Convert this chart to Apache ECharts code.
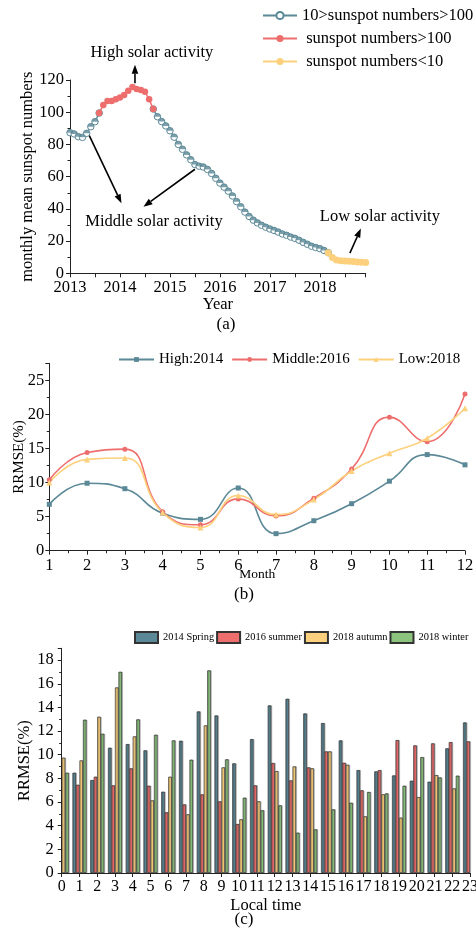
<!DOCTYPE html>
<html><head><meta charset="utf-8">
<script src="https://cdn.jsdelivr.net/npm/echarts@6/dist/echarts.min.js"></script>
<style>html,body{margin:0;padding:0;background:#fff}#c{width:476px;height:938px}</style>
</head><body><div id="c"></div>
<script>
// ---------- (a) monthly mean sunspot numbers, Jan 2013 .. Dec 2018 ----------
const sunspotStartYear = 2013;
const sunspot = [
  87.3, 86.5, 84.8, 84.4, 86.9, 91.0, 94.1, 99.5, 104.5, 106.9, 106.9, 108.0,   // 2013
  109.2, 110.7, 113.4, 115.6, 114.4, 113.8, 112.7, 108.0, 102.0, 97.2, 94.2, 91.5, // 2014
  88.5, 84.5, 80.0, 77.0, 73.5, 70.5, 67.5, 66.5, 66.0, 64.5, 62.0, 59.0,        // 2015
  56.0, 53.5, 51.0, 48.0, 44.5, 41.3, 38.0, 35.3, 33.0, 31.3, 29.8, 28.6,        // 2016
  27.5, 26.6, 25.6, 24.4, 23.6, 22.5, 21.7, 20.5, 19.2, 18.0, 16.8, 16.0,        // 2017
  15.3, 14.2, 12.8, 9.8, 8.3, 7.8, 7.6, 7.5, 7.4, 7.0, 6.9, 6.7                  // 2018
];
// month-index ranges of each activity class
const segMiddle = [[0, 7], [20, 62]];
const segHigh = [[7, 20]];
const segLow = [[62, 71]];
const seriesNamesA = ['10>sunspot numbers>100', ' sunspot numbers>100', ' sunspot numbers<10'];

// ---------- (b) RRMSE by month ----------
const months = [1, 2, 3, 4, 5, 6, 7, 8, 9, 10, 11, 12];
const rrmseHigh2014 = [6.8, 9.9, 9.1, 5.5, 4.6, 9.2, 2.5, 4.4, 6.9, 10.2, 14.1, 12.6];
const rrmseMiddle2016 = [10.4, 14.4, 14.9, 5.7, 3.8, 7.6, 5.1, 7.7, 12.0, 19.6, 16.0, 23.0];
const rrmseLow2018 = [10.0, 13.4, 13.6, 5.6, 3.4, 8.1, 5.3, 7.5, 11.7, 14.3, 16.5, 20.9];
const seriesNamesB = ['High:2014', 'Middle:2016', 'Low:2018'];

// ---------- (c) RRMSE by local time ----------
const hours = [0,1,2,3,4,5,6,7,8,9,10,11,12,13,14,15,16,17,18,19,20,21,22,23];
const spring2014 = [null, 8.48, 7.86, 10.59, 10.9, 10.37, 6.87, 11.18, 13.66, 13.32, 9.27, 11.32, 14.17, 14.73, 13.49, 12.68, 11.21, 8.70, 8.59, 8.25, 7.80, 7.72, 10.54, 12.73];
const summer2016 = [null, 7.46, 8.14, 7.41, 8.85, 7.38, 5.13, 5.80, 6.65, 6.06, 4.14, 7.41, 9.30, 7.83, 8.93, 10.28, 9.32, 6.99, 8.70, 11.24, 10.79, 10.96, 11.07, 11.13];
const autumn2018 = [9.75, 9.52, 13.21, 15.69, 11.55, 6.14, 8.14, 4.96, 12.48, 8.93, 4.54, 6.06, 8.62, 9.01, 8.85, 10.28, 9.15, 4.79, 6.65, 4.68, 6.42, 8.28, 7.15, null];
const winter2018 = [8.48, 12.96, 11.77, 17.01, 12.99, 11.69, 11.21, 9.58, 17.13, 9.61, 6.37, 5.30, 5.72, 3.41, 3.69, 5.38, 5.94, 6.85, 6.73, 7.38, 9.80, 8.08, 8.23, null];
const seriesNamesC = ['2014 Spring', '2016 summer', '2018 autumn', '2018 winter'];

// ---------- styling ----------
const TEAL = '#5b8896', RED = '#ee6e6e', YEL = '#fcd07c', GREEN = '#8cc47e';
const FONT = 'Liberation Serif';

function segData(ranges) {
  return sunspot.map((v, i) => {
    const inside = ranges.some(r => i >= r[0] && i <= r[1]);
    return [sunspotStartYear + i / 12, inside ? v : '-'];
  });
}
const isInt = v => Math.abs(v - Math.round(v)) < 1e-6;
const isMult = (v, m) => Math.abs(v / m - Math.round(v / m)) < 1e-6;

function axisCommon(fs, margin) {
  return {
    axisLine: { show: true, onZero: false, lineStyle: { color: '#222', width: 1 } },
    axisTick: { show: true, inside: false, length: 4, lineStyle: { color: '#222' } },
    splitLine: { show: false },
    axisLabel: { color: '#000', fontSize: fs, fontFamily: FONT, margin: margin },
    nameTextStyle: { color: '#000', fontFamily: FONT },
    nameLocation: 'middle',
    nameMoveOverlap: false
  };
}
const minor = { show: true, splitNumber: 2, length: 2.5, lineStyle: { color: '#222' } };

// upper half of a disc (filled top half of the "10>sunspot>100" markers)
const halfDisk = 'path://M0,5 L0.17,3.71 L0.67,2.5 L1.46,1.46 L2.5,0.67 L3.71,0.17 L5,0 L6.29,0.17 L7.5,0.67 L8.54,1.46 L9.33,2.5 L9.83,3.71 L10,5 Z';

const bar = (name, vals, color) => ({
  name, type: 'bar', xAxisIndex: 2, yAxisIndex: 2,
  data: hours.map((h, i) => [h, vals[i]]),
  barWidth: 3.5, barGap: '0%',
  itemStyle: { color, borderColor: '#333', borderWidth: 0.7,
    shadowColor: 'rgba(0,0,0,0.25)', shadowOffsetX: 1, shadowBlur: 0 },
  clip: true
});

const option = {
  animation: false,
  backgroundColor: '#fff',
  textStyle: { fontFamily: FONT, color: '#000' },
  grid: [
    { left: 70, top: 80, width: 295.7, height: 193.3, outerBoundsMode: 'none', containLabel: false },
    { left: 49.3, top: 363.3, width: 415.7, height: 187.4, outerBoundsMode: 'none', containLabel: false },
    { left: 61.7, top: 648.3, width: 408.3, height: 224.7, outerBoundsMode: 'none', containLabel: false }
  ],
  xAxis: [
    Object.assign(axisCommon(16.5, 6), {
      gridIndex: 0, type: 'value', min: 2013, max: sunspotStartYear + (sunspot.length - 1) / 12, interval: 0.5,
      axisLabel: { color: '#000', fontSize: 16.5, fontFamily: FONT, margin: 6, formatter: v => isInt(v) ? String(Math.round(v)) : '' },
      name: 'Year', nameGap: 23, nameTextStyle: { color: '#000', fontFamily: FONT, fontSize: 16.5 }
    }),
    Object.assign(axisCommon(16.5, 6), {
      gridIndex: 1, type: 'value', min: 1, max: 12, interval: 1, minorTick: minor,
      name: 'Month', nameGap: 17, nameTextStyle: { color: '#000', fontFamily: FONT, fontSize: 13.5 }
    }),
    Object.assign(axisCommon(16, 6), {
      gridIndex: 2, type: 'value', min: 0, max: 23, interval: 1,
      name: 'Local time', nameGap: 24, nameTextStyle: { color: '#000', fontFamily: FONT, fontSize: 16.5 }
    })
  ],
  yAxis: [
    Object.assign(axisCommon(16.5, 6), {
      gridIndex: 0, type: 'value', min: 0, max: 120, interval: 20, minorTick: minor,
      name: 'monthly mean sunspot numbers', nameGap: 34, nameTextStyle: { color: '#000', fontFamily: FONT, fontSize: 16.5 }
    }),
    Object.assign(axisCommon(16.5, 5), {
      gridIndex: 1, type: 'value', min: 0, max: 27.5, interval: 5, minorTick: minor,
      axisLabel: { color: '#000', fontSize: 16.5, fontFamily: FONT, margin: 5, formatter: v => isMult(v, 5) ? String(v) : '' },
      name: 'RRMSE(%)', nameGap: 23, nameTextStyle: { color: '#000', fontFamily: FONT, fontSize: 15 }
    }),
    Object.assign(axisCommon(16.5, 8), {
      gridIndex: 2, type: 'value', min: 0, max: 19, interval: 2, minorTick: minor,
      axisLabel: { color: '#000', fontSize: 16.5, fontFamily: FONT, margin: 8, formatter: v => isMult(v, 2) ? String(v) : '' },
      name: 'RRMSE(%)', nameGap: 29, nameTextStyle: { color: '#000', fontFamily: FONT, fontSize: 16.5 }
    })
  ],
  legend: [
    { data: seriesNamesA, orient: 'vertical', left: 262, top: 7, padding: 0, itemWidth: 34, itemHeight: 9, itemGap: 6,
      selectedMode: false, textStyle: { fontSize: 16.5, fontFamily: FONT, color: '#000' } },
    { data: seriesNamesB, left: 118, top: 352, padding: 0, itemWidth: 35, itemHeight: 6, itemGap: 8,
      selectedMode: false, textStyle: { fontSize: 15, fontFamily: FONT, color: '#000' } },
    { data: seriesNamesC, left: 134, top: 631, padding: 0, width: 420, itemWidth: 23, itemHeight: 11, itemGap: 2, icon: 'rect',
      selectedMode: false, textStyle: { fontSize: 10.4, fontFamily: FONT, color: '#000' } }
  ],
  series: [
    { name: seriesNamesA[0], type: 'line', xAxisIndex: 0, yAxisIndex: 0, data: segData(segMiddle),
      symbol: 'circle', symbolSize: 6.5, showAllSymbol: true,
      itemStyle: { color: '#fff', borderColor: TEAL, borderWidth: 1 },
      lineStyle: { color: TEAL, width: 1.5 } },
    { type: 'scatter', xAxisIndex: 0, yAxisIndex: 0, data: segData(segMiddle), silent: true, z: 3,
      symbol: halfDisk, symbolSize: [6.5, 3.25], symbolOffset: [0, -1.6],
      itemStyle: { color: TEAL } },
    { name: seriesNamesA[1], type: 'line', xAxisIndex: 0, yAxisIndex: 0, data: segData(segHigh), z: 4,
      symbol: 'circle', symbolSize: 6.5, showAllSymbol: true,
      itemStyle: { color: RED }, lineStyle: { color: RED, width: 1.5 } },
    { name: seriesNamesA[2], type: 'line', xAxisIndex: 0, yAxisIndex: 0, data: segData(segLow), z: 4,
      symbol: 'circle', symbolSize: 7, showAllSymbol: true,
      itemStyle: { color: YEL }, lineStyle: { color: YEL, width: 1.5 } },

    { name: seriesNamesB[0], type: 'line', xAxisIndex: 1, yAxisIndex: 1, smooth: 0.5,
      data: months.map((m, i) => [m, rrmseHigh2014[i]]), symbol: 'rect', symbolSize: 5,
      itemStyle: { color: TEAL }, lineStyle: { color: TEAL, width: 1.6 } },
    { name: seriesNamesB[1], type: 'line', xAxisIndex: 1, yAxisIndex: 1, smooth: 0.5,
      data: months.map((m, i) => [m, rrmseMiddle2016[i]]), symbol: 'circle', symbolSize: 5,
      itemStyle: { color: RED }, lineStyle: { color: RED, width: 1.6 } },
    { name: seriesNamesB[2], type: 'line', xAxisIndex: 1, yAxisIndex: 1, smooth: 0.5,
      data: months.map((m, i) => [m, rrmseLow2018[i]]), symbol: 'triangle', symbolSize: 6,
      itemStyle: { color: YEL }, lineStyle: { color: YEL, width: 1.6 } },

    bar(seriesNamesC[0], spring2014, TEAL),
    bar(seriesNamesC[1], summer2016, RED),
    bar(seriesNamesC[2], autumn2018, YEL),
    bar(seriesNamesC[3], winter2018, GREEN)
  ]
};

const chart = echarts.init(document.getElementById('c'), null, { renderer: 'canvas', width: 476, height: 938 });
chart.setOption(option);

// ---------- annotations of panel (a), placed through the axes' scales ----------
const toPx = p => chart.convertToPixel({ xAxisIndex: 0, yAxisIndex: 0 }, p);
const annoArrows = [
  [[2014.3, 118.0], [2014.3, 129.5]],
  [[2013.37, 86.5], [2014.03, 43.5]],
  [[2015.5, 64.6], [2014.47, 41.3]],
  [[2018.6, 12.5], [2018.82, 27.8]]
];
const annoTexts = [
  ['High solar activity', [2014.64, 137.0]],
  ['Middle solar activity', [2014.68, 32.0]],
  ['Low solar activity', [2019.2, 35.0]]
];
const els = [];
annoArrows.forEach(([p1, p2]) => {
  const a = toPx(p1), b = toPx(p2);
  const dx = b[0] - a[0], dy = b[1] - a[1], L = Math.hypot(dx, dy), ux = dx / L, uy = dy / L;
  const hl = 9, hw = 3.3;
  const bx = b[0] - ux * hl, by = b[1] - uy * hl;
  els.push({ type: 'line', silent: true, shape: { x1: a[0], y1: a[1], x2: bx, y2: by }, style: { stroke: '#000', lineWidth: 1.6 } });
  els.push({ type: 'polygon', silent: true, shape: { points: [[b[0], b[1]], [bx - uy * hw, by + ux * hw], [bx + uy * hw, by - ux * hw]] }, style: { fill: '#000' } });
});
annoTexts.forEach(([t, p]) => {
  const q = toPx(p);
  els.push({ type: 'text', silent: true, x: q[0], y: q[1],
    style: { text: t, fill: '#000', fontSize: 16.5, fontFamily: FONT, align: 'center', verticalAlign: 'middle', textAlign: 'center', textVerticalAlign: 'middle' } });
});
[['(a)', 226, 325], ['(b)', 244, 595], ['(c)', 244, 920]].forEach(([t, x, y]) => {
  els.push({ type: 'text', silent: true, x, y,
    style: { text: t, fill: '#000', fontSize: 17, fontFamily: FONT, align: 'center', verticalAlign: 'middle', textAlign: 'center', textVerticalAlign: 'middle' } });
});
chart.setOption({ graphic: els });
</script>
</body></html>
